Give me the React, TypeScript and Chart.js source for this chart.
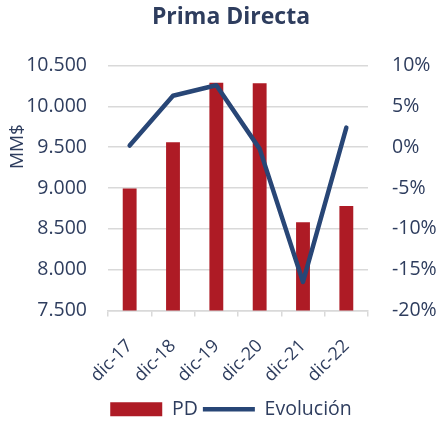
import React, { useEffect, useRef } from "react";
import { Chart, registerables } from "chart.js";
Chart.register(...registerables);

const categories = ["dic-17", "dic-18", "dic-19", "dic-20", "dic-21", "dic-22"];
const primaDirecta = [8995, 9560, 10290, 10285, 8580, 8780];
const evolucion = [0.2, 6.3, 7.6, -0.2, -16.5, 2.4];
const leftTicks = { min: 7500, max: 10500, step: 500 };
const rightTicks = { min: -20, max: 10, step: 5 };

const TEXT = "#2E3D5E";
const BAR = "#AE1B25";
const LINE = "#284676";
const GRID = "#D9D9D9";
const FONT = "'Open Sans', sans-serif";

const fmtThousands = (v: number) =>
  String(Math.round(v)).replace(/\B(?=(\d{3})+(?!\d))/g, ".");

const yTitlePlugin = {
  id: "yTitle",
  afterDraw(chart: any) {
    const { ctx, chartArea } = chart;
    ctx.save();
    ctx.translate(chartArea.left - 90, chartArea.top + 81);
    ctx.rotate(-Math.PI / 2);
    ctx.font = `19px ${FONT}`;
    ctx.fillStyle = TEXT;
    ctx.textAlign = "center";
    ctx.textBaseline = "middle";
    ctx.fillText("MM$", 0, 0);
    ctx.restore();
  },
};

export default function App() {
  const ref = useRef<HTMLCanvasElement | null>(null);
  useEffect(() => {
    if (!ref.current) return;
    const chart = new Chart(ref.current, {
      type: "bar",
      data: {
        labels: categories,
        datasets: [
          {
            type: "bar",
            label: "PD",
            data: primaDirecta,
            backgroundColor: BAR,
            yAxisID: "y",
            barPercentage: 0.32,
            categoryPercentage: 1,
            order: 2,
            pointStyle: "rect",
          } as any,
          {
            type: "line",
            label: "Evolución",
            data: evolucion,
            borderColor: LINE,
            backgroundColor: LINE,
            borderWidth: 4.5,
            borderCapStyle: "round",
            borderJoinStyle: "round",
            pointRadius: 0,
            tension: 0,
            yAxisID: "y1",
            order: 1,
            pointStyle: "line",
          } as any,
        ],
      },
      options: {
        animation: false,
        responsive: true,
        maintainAspectRatio: false,
        layout: { padding: { left: 25, right: 3, top: 0, bottom: 0 } },
        plugins: {
          title: {
            display: true,
            text: "Prima Directa",
            color: TEXT,
            font: { family: FONT, size: 23, weight: "bold" },
            padding: { top: 4, bottom: 34 },
          },
          legend: {
            position: "bottom",
            labels: {
              usePointStyle: true,
              pointStyleWidth: 52,
              boxHeight: 14,
              color: TEXT,
              font: { family: FONT, size: 19.5 },
              padding: 5,
              sort: (a: any, b: any) => a.datasetIndex - b.datasetIndex,
            },
          },
          tooltip: { enabled: false },
        },
        scales: {
          x: {
            afterFit: (scale: any) => {
              scale.height = 84;
            },
            grid: {
              drawOnChartArea: false,
              drawTicks: true,
              tickLength: 6,
              offset: true,
              color: GRID,
              lineWidth: 1.5,
            },
            border: { color: GRID, width: 1.5 },
            ticks: {
              color: TEXT,
              font: { family: FONT, size: 18 },
              minRotation: 45,
              maxRotation: 45,
              padding: 19,
            },
          },
          y: {
            position: "left",
            min: leftTicks.min,
            max: leftTicks.max,
            afterFit: (scale: any) => {
              scale.width = 83;
            },
            grid: { color: GRID, lineWidth: 1.5, drawTicks: false },
            border: { display: false },
            ticks: {
              stepSize: leftTicks.step,
              color: TEXT,
              font: { family: FONT, size: 19.5 },
              padding: 21,
              callback: (v: any) => fmtThousands(Number(v)),
            },
          },
          y1: {
            position: "right",
            min: rightTicks.min,
            max: rightTicks.max,
            afterFit: (scale: any) => {
              scale.width = 69;
            },
            grid: { drawOnChartArea: false, drawTicks: false },
            border: { display: false },
            ticks: {
              stepSize: rightTicks.step,
              color: TEXT,
              font: { family: FONT, size: 19.5 },
              padding: 24,
              callback: (v: any) => `${v}%`,
            },
          },
        },
      },
      plugins: [yTitlePlugin],
    } as any);
    return () => chart.destroy();
  }, []);
  return (
    <div style={{ position: "absolute", left: 0, top: 0, width: 440, height: 429 }}>
      <canvas ref={ref} />
    </div>
  );
}
